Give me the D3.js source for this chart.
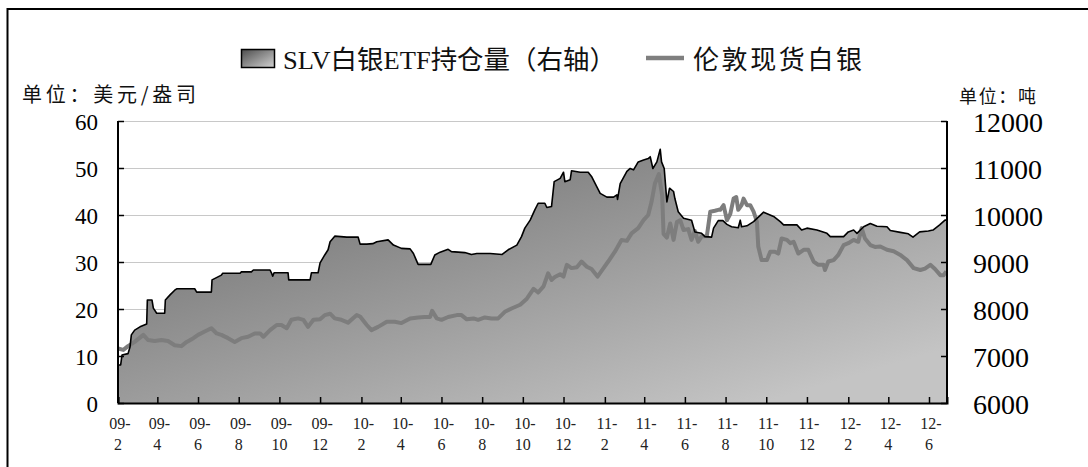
<!DOCTYPE html>
<html><head><meta charset="utf-8">
<script src="https://cdn.jsdelivr.net/npm/d3@7"></script>
<style>
html,body{margin:0;padding:0;background:#fff;}
svg{display:block;}
</style></head>
<body>
<svg id="chart" width="1088" height="467"></svg>
<script>
// ---------- DATA ----------
const xTickLabels = ["09-2","09-4","09-6","09-8","09-10","09-12","10-2","10-4","10-6","10-8","10-10","10-12","11-2","11-4","11-6","11-8","11-10","11-12","12-2","12-4","12-6"];
const leftTicks = [0,10,20,30,40,50,60];
const rightTicks = [6000,7000,8000,9000,10000,11000,12000];
const legendNames = ["SLV白银ETF持仓量（右轴）","伦敦现货白银"];
const leftUnit = "单位：美元/盎司";
const rightUnit = "单位：吨";

const slvDates = ["2009-02-01","2009-02-05","2009-02-07","2009-02-16","2009-02-19","2009-02-21","2009-02-26","2009-03-06","2009-03-16","2009-03-17","2009-03-24","2009-03-26","2009-03-31","2009-04-12","2009-04-13","2009-04-20","2009-04-27","2009-04-30","2009-05-27","2009-05-30","2009-06-21","2009-06-22","2009-07-06","2009-07-08","2009-08-03","2009-08-05","2009-08-20","2009-08-23","2009-09-17","2009-09-19","2009-09-21","2009-09-23","2009-10-14","2009-10-15","2009-11-16","2009-11-18","2009-11-28","2009-12-01","2009-12-08","2009-12-13","2009-12-16","2009-12-23","2010-01-10","2010-01-27","2010-01-30","2010-02-09","2010-02-18","2010-02-24","2010-03-13","2010-03-21","2010-04-02","2010-04-15","2010-04-20","2010-04-27","2010-05-16","2010-05-22","2010-05-30","2010-06-11","2010-06-16","2010-07-06","2010-07-16","2010-07-24","2010-08-13","2010-08-31","2010-09-09","2010-09-22","2010-09-29","2010-10-04","2010-10-12","2010-10-19","2010-10-24","2010-11-03","2010-11-06","2010-11-13","2010-11-17","2010-11-26","2010-12-01","2010-12-03","2010-12-11","2010-12-13","2010-12-26","2011-01-07","2011-01-12","2011-01-20","2011-01-25","2011-02-04","2011-02-14","2011-02-19","2011-02-20","2011-02-24","2011-03-06","2011-03-11","2011-03-16","2011-03-23","2011-03-31","2011-04-07","2011-04-10","2011-04-14","2011-04-20","2011-04-25","2011-04-27","2011-05-01","2011-05-05","2011-05-09","2011-05-15","2011-05-17","2011-05-22","2011-05-30","2011-06-11","2011-06-16","2011-06-26","2011-07-01","2011-07-11","2011-07-14","2011-07-21","2011-07-28","2011-08-03","2011-08-10","2011-08-20","2011-08-23","2011-08-25","2011-09-02","2011-09-12","2011-09-27","2011-10-12","2011-10-22","2011-10-27","2011-11-16","2011-11-23","2011-12-01","2011-12-16","2011-12-31","2012-01-05","2012-01-25","2012-02-01","2012-02-09","2012-02-14","2012-02-24","2012-03-05","2012-03-15","2012-03-30","2012-04-04","2012-04-19","2012-05-01","2012-05-08","2012-05-18","2012-05-31","2012-06-07","2012-06-17","2012-06-25","2012-06-28"];
const slvTonnes = [6810,6810,7020,7050,7190,7450,7550,7620,7680,8190,8190,8020,7910,7910,8190,8300,8400,8430,8430,8360,8360,8620,8720,8760,8760,8790,8790,8830,8830,8770,8700,8770,8770,8620,8620,8770,8770,8980,9150,9260,9430,9550,9530,9530,9380,9380,9390,9430,9470,9360,9290,9280,9180,8950,8950,9150,9210,9270,9220,9200,9160,9180,9180,9160,9260,9360,9540,9720,9890,10110,10250,10250,10160,10180,10710,10780,10910,10710,10750,10940,10910,10910,10820,10600,10460,10380,10380,10430,10330,10670,10930,10990,10960,11130,11170,11200,11240,10990,11130,11400,11130,10990,10280,10570,10500,10350,10070,9930,9890,9640,9610,9540,9530,9720,9880,9880,9800,9750,9730,9890,9750,9770,9860,10060,9970,9860,9790,9790,9680,9720,9680,9610,9540,9540,9640,9680,9610,9750,9820,9760,9750,9670,9630,9600,9530,9640,9660,9680,9790,9890,9890];

const priceDates = ["2009-02-01","2009-02-09","2009-02-16","2009-02-26","2009-03-11","2009-03-18","2009-03-28","2009-04-07","2009-04-17","2009-04-27","2009-05-07","2009-05-15","2009-05-25","2009-06-01","2009-06-11","2009-06-21","2009-06-29","2009-07-06","2009-07-16","2009-07-26","2009-08-05","2009-08-15","2009-08-25","2009-09-02","2009-09-07","2009-09-17","2009-09-27","2009-10-04","2009-10-12","2009-10-19","2009-10-29","2009-11-06","2009-11-13","2009-11-21","2009-12-01","2009-12-08","2009-12-16","2009-12-23","2010-01-02","2010-01-12","2010-01-25","2010-01-30","2010-02-09","2010-02-16","2010-02-26","2010-03-11","2010-03-23","2010-04-02","2010-04-15","2010-04-27","2010-05-07","2010-05-15","2010-05-18","2010-05-25","2010-06-01","2010-06-11","2010-06-24","2010-07-01","2010-07-09","2010-07-19","2010-07-26","2010-08-05","2010-08-15","2010-08-25","2010-09-04","2010-09-14","2010-09-27","2010-10-07","2010-10-17","2010-10-24","2010-11-01","2010-11-08","2010-11-13","2010-11-18","2010-11-26","2010-12-01","2010-12-06","2010-12-13","2010-12-21","2010-12-28","2011-01-05","2011-01-12","2011-01-21","2011-01-30","2011-02-06","2011-02-16","2011-02-26","2011-03-06","2011-03-13","2011-03-23","2011-03-31","2011-04-07","2011-04-12","2011-04-17","2011-04-23","2011-04-27","2011-04-28","2011-04-30","2011-05-05","2011-05-10","2011-05-15","2011-05-20","2011-05-25","2011-05-30","2011-06-06","2011-06-11","2011-06-16","2011-06-21","2011-06-26","2011-07-04","2011-07-09","2011-07-16","2011-07-21","2011-07-24","2011-07-29","2011-08-03","2011-08-08","2011-08-13","2011-08-17","2011-08-20","2011-08-25","2011-08-28","2011-09-02","2011-09-07","2011-09-12","2011-09-17","2011-09-19","2011-09-24","2011-10-02","2011-10-07","2011-10-14","2011-10-19","2011-10-24","2011-11-01","2011-11-06","2011-11-11","2011-11-18","2011-11-26","2011-12-03","2011-12-11","2011-12-18","2011-12-26","2011-12-28","2012-01-02","2012-01-10","2012-01-17","2012-01-25","2012-02-01","2012-02-09","2012-02-16","2012-02-21","2012-02-26","2012-03-05","2012-03-12","2012-03-20","2012-03-30","2012-04-09","2012-04-19","2012-04-29","2012-05-09","2012-05-19","2012-05-26","2012-06-03","2012-06-10","2012-06-18","2012-06-23","2012-06-27"];
const priceValues = [11.6,11.3,12.1,13.0,14.5,13.4,13.2,13.4,13.2,12.3,12.1,13.0,13.8,14.5,15.2,15.9,14.8,14.5,13.8,13.0,13.8,14.1,14.8,14.8,14.1,15.5,16.6,16.6,15.9,17.7,18.0,17.7,16.2,17.7,17.8,18.7,19.0,18.0,17.7,17.1,18.7,18.4,16.6,15.5,16.2,17.3,17.3,17.0,18.0,18.2,18.3,18.3,19.6,18.0,17.7,18.3,18.7,18.7,17.8,18.0,17.7,18.2,18.0,18.0,19.4,20.1,20.9,22.2,24.3,23.5,24.8,27.6,26.2,26.8,27.4,26.9,29.4,28.7,28.9,30.1,29.0,28.5,26.9,28.7,30.1,32.2,34.7,34.5,36.1,37.2,38.9,40.0,42.8,46.7,48.7,45.0,44.0,36.0,35.2,38.2,34.7,38.5,38.9,36.8,37.0,34.7,36.6,34.3,35.4,35.6,40.7,40.9,41.1,41.1,42.1,38.9,40.2,43.5,43.8,41.1,42.1,43.5,42.1,42.1,40.7,38.6,33.3,30.4,30.4,32.2,32.2,31.8,35.0,34.7,34.0,34.3,31.8,32.6,32.6,30.1,29.4,29.4,28.3,30.1,30.4,31.5,33.6,34.0,34.7,34.3,37.2,35.0,33.6,33.2,33.3,32.6,32.3,31.5,30.4,28.7,28.3,28.6,29.4,28.5,27.2,27.2,28.0];

// ---------- CHART ----------
const parse = d3.timeParse("%Y-%m-%d");
const slv = slvDates.map((d,i)=>({date:parse(d), v:slvTonnes[i]}));
const price = priceDates.map((d,i)=>({date:parse(d), v:priceValues[i]}));
const tickDates = xTickLabels.map(s=>{const [yy,mm]=s.split("-");return new Date(2000+ +yy, +mm-1, 1);});

const L=118, R=947, T=121, B=403;
const x = d3.scaleTime().domain([parse("2009-02-01"), parse("2012-06-28")]).range([L,R]);
const yL = d3.scaleLinear().domain([0,60]).range([B,T]);
const yR = d3.scaleLinear().domain([6000,12000]).range([B,T]);

const svg = d3.select("#chart");
const defs = svg.append("defs");
const gy0 = yR(11400);
const g1 = defs.append("linearGradient").attr("id","areaGrad").attr("gradientUnits","userSpaceOnUse")
  .attr("x1",L).attr("y1",gy0).attr("x2",L+0.146*(R-L)).attr("y2",gy0+1.45*(B-T));
g1.append("stop").attr("offset","0").attr("stop-color","#666666");
g1.append("stop").attr("offset","1").attr("stop-color","#c4c4c4");
const g2 = defs.append("linearGradient").attr("id","swGrad").attr("x1","0").attr("y1","0").attr("x2","1").attr("y2","1");
g2.append("stop").attr("offset","0").attr("stop-color","#4c4c4c");
g2.append("stop").attr("offset","1").attr("stop-color","#d2d2d2");

// frame
svg.append("line").attr("x1",7.5).attr("x2",7.5).attr("y1",8).attr("y2",467).attr("stroke","#000").attr("stroke-width",2);
svg.append("line").attr("x1",7.5).attr("x2",1088).attr("y1",9).attr("y2",9).attr("stroke","#000").attr("stroke-width",2);

// grid
svg.append("g").selectAll("line").data(leftTicks.filter(d=>d>0)).join("line")
  .attr("x1",L).attr("x2",R).attr("y1",d=>yL(d)+0.5).attr("y2",d=>yL(d)+0.5)
  .attr("stroke","#c8c8c8").attr("stroke-width",1);

// area
const area = d3.area().x(d=>x(d.date)).y0(yR(6000)).y1(d=>yR(d.v));
svg.append("path").datum(slv).attr("d",area).attr("fill","url(#areaGrad)");

// price line
const pline = d3.line().x(d=>x(d.date)).y(d=>yL(d.v)).curve(d3.curveLinear);
svg.append("path").datum(price).attr("d",pline).attr("fill","none")
  .attr("stroke","#7d7d7d").attr("stroke-width",4).attr("stroke-linejoin","round");

// slv outline
const sline = d3.line().x(d=>x(d.date)).y(d=>yR(d.v));
svg.append("path").datum(slv).attr("d",sline).attr("fill","none")
  .attr("stroke","#000").attr("stroke-width",1.6).attr("stroke-linejoin","round");

// axes
const axL = svg.append("g").attr("transform",`translate(${L},0)`)
  .call(d3.axisLeft(yL).tickValues(leftTicks).tickSize(-6).tickPadding(20).tickFormat(d3.format("d")));
const axR = svg.append("g").attr("transform",`translate(${R},0)`)
  .call(d3.axisRight(yR).tickValues(rightTicks).tickSize(-6).tickPadding(26).tickFormat(d3.format("d")));
const axB = svg.append("g").attr("transform",`translate(0,${B})`)
  .call(d3.axisBottom(x).tickValues(tickDates).tickSize(-6).tickFormat(""));
[axL,axR,axB].forEach(a=>{
  a.select(".domain").attr("stroke","#000").attr("stroke-width",2);
  a.selectAll(".tick line").attr("stroke","#000").attr("stroke-width",1.5);
});
axL.select(".domain").attr("d",`M0,${T}H0V${B}H0`);
axR.select(".domain").attr("d",`M0,${T}H0V${B}H0`);
axL.selectAll(".tick text").attr("font-family","'Liberation Serif',serif").attr("font-size",23).attr("fill","#000").attr("dy","0.36em");
axR.selectAll(".tick text").attr("font-family","'Liberation Serif',serif").attr("font-size",28).attr("fill","#000").attr("dy","0.36em");

// x labels (two lines)
const xl = svg.append("g").selectAll("text").data(xTickLabels).join("text")
  .attr("font-family","'Liberation Serif',serif").attr("font-size",16).attr("fill","#222").attr("text-anchor","middle");
xl.each(function(s,i){
  const [a,b]=s.split("-");
  const t=d3.select(this); const cx=x(tickDates[i]);
  t.append("tspan").attr("x",cx+2).attr("y",429).text(a+"-");
  t.append("tspan").attr("x",cx).attr("y",450).text(b);
});

// units
svg.append("text").attr("x",22).attr("y",102).attr("font-family","'Noto Sans CJK SC',sans-serif").attr("font-size",20)
  .attr("textLength",174).attr("lengthAdjust","spacing").attr("fill","#111").text(leftUnit);
svg.append("text").attr("x",959).attr("y",103).attr("font-family","'Noto Sans CJK SC',sans-serif").attr("font-size",18)
  .attr("textLength",77).attr("lengthAdjust","spacing").attr("fill","#111").text(rightUnit);

// legend
svg.append("rect").attr("x",241.5).attr("y",49.5).attr("width",33).attr("height",18).attr("fill","url(#swGrad)").attr("stroke","#000").attr("stroke-width",1.5);
svg.append("text").attr("x",283).attr("y",69).attr("font-family","'Liberation Serif','Noto Sans CJK SC',serif").attr("font-size",26)
  .attr("textLength",333).attr("lengthAdjust","spacingAndGlyphs").attr("fill","#111").text(legendNames[0]);
svg.append("line").attr("x1",646).attr("x2",684).attr("y1",58).attr("y2",58).attr("stroke","#7f7f7f").attr("stroke-width",4.5);
svg.append("text").attr("x",693).attr("y",69).attr("font-family","'Noto Sans CJK SC',sans-serif").attr("font-size",26)
  .attr("textLength",169).attr("lengthAdjust","spacing").attr("fill","#111").text(legendNames[1]);
</script>
</body></html>
